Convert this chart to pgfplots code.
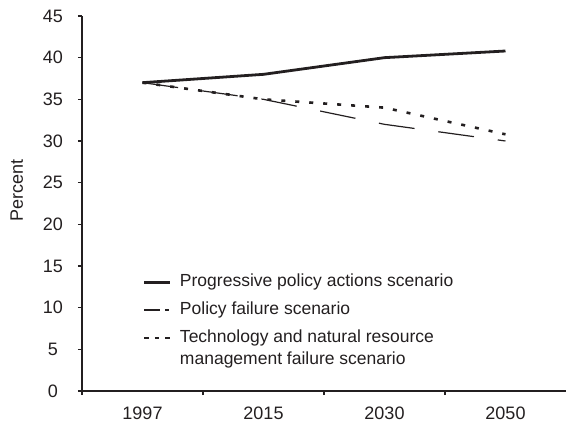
\documentclass[border=0pt]{standalone}
\usepackage{fontspec}
\setmainfont{Liberation Sans}
\usepackage{pgfplots}
\pgfplotsset{compat=1.18}
\definecolor{ink}{HTML}{231F20}
\begin{document}
\begin{tikzpicture}
\begin{axis}[
  at={(0,0)}, anchor=south west,
  scale only axis, width=484bp, height=375bp,
  xmin=-0.5, xmax=3.5, ymin=0, ymax=45,
  axis x line=bottom, axis y line=left,
  axis line style={-, line width=1.3bp, ink},
  xtick={-0.5,0.5,1.5,2.5}, xticklabels={},
  extra x ticks={0,1,2,3}, extra x tick labels={1997,2015,2030,2050},
  extra x tick style={major tick length=0pt},
  ytick={0,5,...,45},
  tick align=outside, major tick length=4bp,
  tick style={line width=1.3bp, ink},
  /pgf/number format/assume math mode=true,
  tick label style={font=\fontsize{18bp}{20bp}\selectfont, text=ink},
  yticklabel style={anchor=center, xshift=-25bp},
  xticklabel style={anchor=center, yshift=-22bp},
  ylabel={Percent},
  ylabel style={at={(axis description cs:-0.135,0.535)}, anchor=center, font=\fontsize{18bp}{20bp}\selectfont, text=ink},
  legend style={draw=none, fill=none, inner sep=0pt, outer sep=0pt,
    at={(axis description cs:0.126,0.3133)}, anchor=north west,
    font=\fontsize{17.5bp}{20bp}\selectfont, text=ink,
    nodes={inner sep=0pt, text height=13bp, text depth=4bp},
    row sep=11bp,
    /tikz/every odd column/.append style={column sep=8bp}},
  legend cell align=left,
  legend image code/.code={\draw[#1] (0bp,0bp) -- (26bp,0bp);},
]
\addplot[line width=2.8bp, ink,
  legend image post style={line width=3bp}] coordinates {(0,37) (1,38) (2,40) (3,40.8)};
\addlegendentry{Progressive policy actions scenario}
\addplot[line width=1.2bp, ink, dash pattern=on 36bp off 24bp,
  legend image post style={line width=1.3bp, dash pattern=on 16bp off 5bp on 4bp off 10bp}] coordinates {(0,37) (1,35) (2,32) (3,30)};
\addlegendentry{Policy failure scenario}
\addplot[line width=2.6bp, ink, dash pattern=on 4bp off 10bp,
  legend image post style={line width=1.4bp, dash pattern=on 4.5bp off 6bp}] coordinates {(0,37) (1,35) (2,34) (3,30.8)};
\addlegendentry{Technology and natural resource}
\addlegendimage{empty legend}
\addlegendentry{\raisebox{6bp}{management failure scenario}}
\end{axis}
\pgfresetboundingbox
\path (-82bp,-36bp) rectangle (484bp,391bp);
\end{tikzpicture}
\end{document}
